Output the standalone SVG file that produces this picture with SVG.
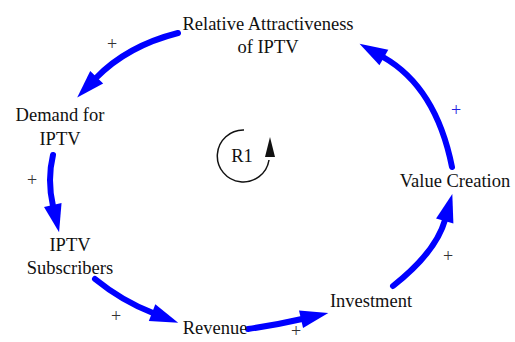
<svg xmlns="http://www.w3.org/2000/svg" width="515" height="342" viewBox="0 0 515 342">
<style>
.lbl{font-family:"Liberation Serif","Times New Roman",serif;font-size:18.5px;fill:#111;text-anchor:middle}
.pl{font-family:"Liberation Serif","Times New Roman",serif;font-size:18px;fill:#333;text-anchor:middle}
.plb{fill:#2020e0}
.link{fill:none;stroke:#0000ff;stroke-width:6;stroke-linecap:round;marker-end:url(#ah)}
</style>
<defs>
<marker id="ah" markerUnits="userSpaceOnUse" markerWidth="30" markerHeight="22" viewBox="-1 -10 30 20" refX="0" refY="0" orient="auto" overflow="visible">
<path d="M-1,-9 L27,0 L-1,9 z" fill="#0000ff"/>
</marker>
</defs>
<rect width="515" height="342" fill="#fff"/>
<g id="connectors">
<path class="link" d="M178,33 Q127,46 96,78"/>
<path class="link" d="M53,155 Q47,180 53,206"/>
<path class="link" d="M95,279 Q122,301 153,313"/>
<path class="link" d="M248,329 Q276,325 302,319"/>
<path class="link" d="M393,286 Q436,252 445,220"/>
<path class="link" d="M452,167 Q436,87 383,57"/>
</g>
<g id="polarities">
<text class="pl" x="112" y="49.5">+</text>
<text class="pl" x="32" y="186">+</text>
<text class="pl" x="116" y="321.5">+</text>
<text class="pl" x="296" y="337">+</text>
<text class="pl" x="448" y="262">+</text>
<text class="pl plb" x="456" y="116">+</text>
</g>
<g id="loop-R1">
<path d="M244,130 A26,26 0 1,0 269,160" fill="none" stroke="#111" stroke-width="1.5"/>
<polygon points="270,137 265,157 275,157" fill="#111"/>
<text class="lbl" x="242" y="162">R1</text>
</g>
<g id="node-attractiveness">
<text class="lbl" x="268" y="30">Relative Attractiveness</text>
<text class="lbl" x="268" y="53">of IPTV</text>
</g>
<g id="node-demand">
<text class="lbl" x="60" y="121">Demand for</text>
<text class="lbl" x="60" y="145">IPTV</text>
</g>
<g id="node-subscribers">
<text class="lbl" x="70" y="251">IPTV</text>
<text class="lbl" x="70" y="274">Subscribers</text>
</g>
<g id="node-revenue">
<text class="lbl" x="215" y="334">Revenue</text>
</g>
<g id="node-investment">
<text class="lbl" x="371" y="307">Investment</text>
</g>
<g id="node-value">
<text class="lbl" x="455" y="187">Value Creation</text>
</g>
</svg>
